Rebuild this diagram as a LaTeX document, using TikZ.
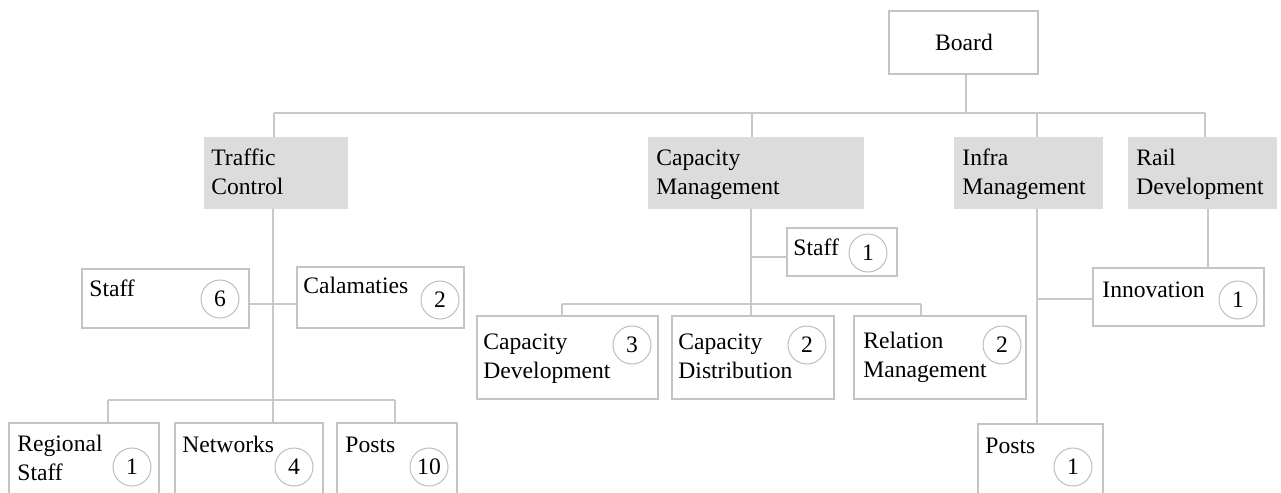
\documentclass[tikz,border=0pt]{standalone}
\usepackage{fontspec}
\setmainfont{Liberation Serif}
\usetikzlibrary{fit}

\definecolor{linegray}{HTML}{C8C8C8}
\definecolor{boxgray}{HTML}{C4C4C4}
\definecolor{headgray}{HTML}{DCDCDC}
\definecolor{ringgray}{HTML}{BEBEBE}

\begin{document}
\begin{tikzpicture}[x=0.5pt,y=-0.5pt,
  wire/.style={draw=linegray, line width=0.75pt},
  unit/.style={draw=boxgray, line width=0.75pt, inner sep=0pt, fill=white},
  head/.style={fill=headgray, draw=none, inner sep=0pt},
  % multi-line text: the base anchor sits on the last line
  txt/.style={anchor=base west, inner sep=0pt, align=left,
              font=\fontsize{11.8}{14.25}\selectfont},
  badge/.style={circle, draw=ringgray, line width=0.5pt, minimum size=19pt,
                inner sep=0pt, font=\fontsize{11.8}{14}\selectfont}]

\useasboundingbox (0,0) rectangle (1281,493);
\clip (0,0) rectangle (1281,493);

% ---- top level ----
\node[unit, fit={(889,11)(1038,74)}] (board) {};
\node[anchor=base, inner sep=0pt, font=\fontsize{11.8}{14}\selectfont] (boardtxt) at (964,50) {Board};

\node[head, fit={(204,137)(348,209)}] (traffic) {};
\node[txt] (traffictxt) at (211,194) {Traffic\\Control};
\node[head, fit={(648,137)(864,209)}] (capacity) {};
\node[txt] (capacitytxt) at (656,194) {Capacity\\Management};
\node[head, fit={(954,137)(1103,209)}] (infra) {};
\node[txt] (infratxt) at (962,194) {Infra\\Management};
\node[head, fit={(1128,137)(1277,209)}] (rail) {};
\node[txt] (railtxt) at (1136,194) {Rail\\Development};

\coordinate (jT) at (274,113);
\coordinate (jC) at (752,113);
\coordinate (jI) at (1037,113);
\coordinate (jR) at (1205,113);
\coordinate (jB) at (966,113);
\draw[wire] (jB |- board.south) -- (jB);
\draw[wire] (jT) -- (jR);
\draw[wire] (jT) -- (jT |- traffic.north);
\draw[wire] (jC) -- (jC |- capacity.north);
\draw[wire] (jI) -- (jI |- infra.north);
\draw[wire] (jR) -- (jR |- rail.north);

% ---- Traffic Control ----
\node[unit, fit={(82,269)(249,328)}] (tstaff) {};
\node[txt] (tstafftxt) at (89,296) {Staff};
\node[badge] (tstaffn) at (220,299) {6};

\node[unit, fit={(297,267)(464,328)}] (calam) {};
\node[txt] (calamtxt) at (303,293) {Calamaties};
\node[badge] (calamn) at (440,300) {2};

\node[unit, fit={(9,423)(159,510)}] (regional) {};
\node[txt] (regionaltxt) at (17,480) {Regional\\Staff};
\node[badge] (regionaln) at (132,467) {1};

\node[unit, fit={(175,423)(323,510)}] (networks) {};
\node[txt] (networkstxt) at (182,452) {Networks};
\node[badge] (networksn) at (294,467) {4};

\node[unit, fit={(337,423)(457,510)}] (tposts) {};
\node[txt] (tpoststxt) at (345,452) {Posts};
\node[badge] (tpostsn) at (429,467) {10};

\coordinate (tTop) at (273,209);
\coordinate (tSide) at (273,304);
\coordinate (tBusL) at (108,400);
\coordinate (tBusR) at (395,400);
\draw[wire] (tTop) -- (tTop |- networks.north);
\draw[wire] (tstaff.east |- tSide) -- (calam.west |- tSide);
\draw[wire] (tBusL) -- (tBusR);
\draw[wire] (tBusL) -- (tBusL |- regional.north);
\draw[wire] (tBusR) -- (tBusR |- tposts.north);

% ---- Capacity Management ----
\node[unit, fit={(787,228)(897,276)}] (cstaff) {};
\node[txt] (cstafftxt) at (793,255) {Staff};
\node[badge] (cstaffn) at (868,253) {1};

\node[unit, fit={(477,316)(658,399)}] (capdev) {};
\node[txt] (capdevtxt) at (483,378) {Capacity\\Development};
\node[badge] (capdevn) at (632,345) {3};

\node[unit, fit={(672,316)(834,399)}] (capdist) {};
\node[txt] (capdisttxt) at (678,378) {Capacity\\Distribution};
\node[badge] (capdistn) at (807,345) {2};

\node[unit, fit={(854,316)(1026,399)}] (relation) {};
\node[txt] (relationtxt) at (863,377) {Relation\\Management};
\node[badge] (relationn) at (1002,345) {2};

\coordinate (cTop) at (751,209);
\coordinate (cSide) at (751,257);
\coordinate (cBusL) at (562,304);
\coordinate (cBusR) at (921,304);
\draw[wire] (cTop) -- (cTop |- capdist.north);
\draw[wire] (cSide) -- (cstaff.west |- cSide);
\draw[wire] (cBusL) -- (cBusR);
\draw[wire] (cBusL) -- (cBusL |- capdev.north);
\draw[wire] (cBusR) -- (cBusR |- relation.north);

% ---- Infra Management and Rail Development ----
\node[unit, fit={(978,424)(1103,510)}] (iposts) {};
\node[txt] (ipoststxt) at (985,453) {Posts};
\node[badge] (ipostsn) at (1073,467) {1};

\node[unit, fit={(1093,268)(1264,326)}] (innov) {};
\node[txt] (innovtxt) at (1102,297) {Innovation};
\node[badge] (innovn) at (1238,300) {1};

\coordinate (iTop) at (1037,209);
\coordinate (iSide) at (1037,299);
\coordinate (rTop) at (1208,209);
\draw[wire] (iTop) -- (iTop |- iposts.north);
\draw[wire] (iSide) -- (innov.west |- iSide);
\draw[wire] (rTop) -- (rTop |- innov.north);

\end{tikzpicture}
\end{document}
